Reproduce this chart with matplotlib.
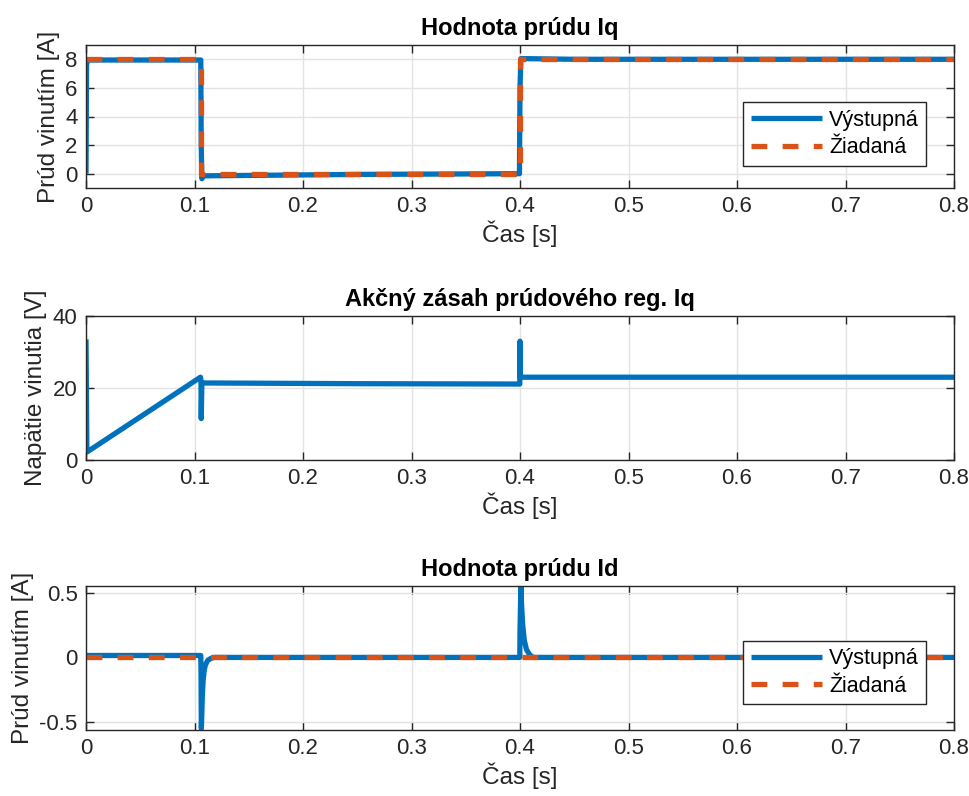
import numpy as np
import matplotlib.pyplot as plt

plt.rcParams['font.family'] = ['Liberation Sans', 'DejaVu Sans']

# --- data ---
# Iq (top)
t_iq = [0, 0.0005, 0.0015, 0.1058, 0.1062, 0.1068, 0.108, 0.15, 0.25, 0.3995, 0.4, 0.4008, 0.45, 0.8]
iq_out = [0, 7.6, 7.95, 7.95, 2.0, -0.35, -0.15, -0.12, -0.05, 0.0, 6.0, 8.05, 8.0, 8.0]
t_ref = [0, 0.106, 0.106, 0.4, 0.4, 0.8]
iq_ref = [8, 8, 0, 0, 8, 8]

# action value (middle)
t_u = [0, 0.0008, 0.1055, 0.106, 0.1062, 0.1068, 0.25, 0.3998, 0.4, 0.4003, 0.8]
u_val = [33.5, 2.2, 23.0, 22.0, 11.5, 21.4, 21.2, 21.1, 33.0, 23.0, 23.0]

# Id (bottom)
t_id = [0, 0.1058, 0.106, 0.1063, 0.1067, 0.1072, 0.108, 0.109, 0.110, 0.112, 0.115, 0.118,
        0.3998, 0.4, 0.4008, 0.4015, 0.4025, 0.404, 0.406, 0.409, 0.412, 0.8]
id_out = [0.015, 0.015, -0.1, -0.55, -0.45, -0.3, -0.17, -0.1, -0.06, -0.025, -0.008, 0.0,
          0.0, 0.2, 0.55, 0.4, 0.25, 0.13, 0.06, 0.02, 0.0, 0.0]
id_ref_t = [0, 0.8]
id_ref = [0, 0]

blue = '#0072BD'
orange = '#D95319'
dark = '#262626'

fig = plt.figure(figsize=(9.7, 7.96), dpi=100)
left, width = 86 / 970, 868 / 970
ax1 = fig.add_axes([left, 1 - 188 / 796, width, 143 / 796])
ax2 = fig.add_axes([left, 1 - 460 / 796, width, 144 / 796])
ax3 = fig.add_axes([left, 1 - 730 / 796, width, 144 / 796])

lw = 3.8
solid = dict(solid_joinstyle='round', solid_capstyle='butt')

ax1.plot(t_iq, iq_out, color=blue, lw=lw, label='Výstupná', **solid)
ax1.plot(t_ref, iq_ref, color=orange, lw=lw, ls='--', dashes=(3.0, 2.9), label='Žiadaná')
ax1.set_ylim(-1, 9)
ax1.set_yticks([0, 2, 4, 6, 8])
ax1.set_title('Hodnota prúdu Iq', fontsize=17, fontweight='bold', pad=7)
ax1.set_ylabel('Prúd vinutím [A]', fontsize=17.5, labelpad=4)

ax2.plot(t_u, u_val, color=blue, lw=lw, **solid)
ax2.set_ylim(0, 40)
ax2.set_yticks([0, 20, 40])
ax2.set_title('Akčný zásah prúdového reg. Iq', fontsize=17, fontweight='bold', pad=7)
ax2.set_ylabel('Napätie vinutia [V]', fontsize=17.5, labelpad=4)

ax3.plot(t_id, id_out, color=blue, lw=lw, label='Výstupná', **solid)
ax3.plot(id_ref_t, id_ref, color=orange, lw=lw, ls='--', dashes=(3.0, 2.9), label='Žiadaná')
ax3.set_ylim(-0.562, 0.553)
ax3.set_yticks([-0.5, 0, 0.5])
ax3.set_yticklabels(['-0.5', '0', '0.5'])
ax3.set_title('Hodnota prúdu Id', fontsize=17, fontweight='bold', pad=7)
ax3.set_ylabel('Prúd vinutím [A]', fontsize=17.5, labelpad=4)

for ax in (ax1, ax2, ax3):
    ax.set_xlim(0, 0.8)
    ax.set_xticks(np.arange(0, 0.81, 0.1))
    ax.set_xticklabels(['0', '0.1', '0.2', '0.3', '0.4', '0.5', '0.6', '0.7', '0.8'])
    ax.set_xlabel('Čas [s]', fontsize=17.5, labelpad=2)
    ax.grid(True, color='#e3e3e3', lw=1)
    ax.set_axisbelow(True)
    ax.tick_params(direction='in', top=True, right=True, length=6, width=1,
                   labelsize=16, colors=dark, pad=6)
    for s in ax.spines.values():
        s.set_color(dark)
        s.set_linewidth(1)
    ax.yaxis.label.set_color(dark)
    ax.xaxis.label.set_color(dark)

for ax in (ax1, ax3):
    leg = ax.legend(loc='upper left', bbox_to_anchor=(657 / 868, 0.6 if ax is ax1 else 0.62),
                    fontsize=15.5, handlelength=3.3, fancybox=False, framealpha=1,
                    edgecolor=dark, borderpad=0.35, labelspacing=0.3, handletextpad=0.35,
                    borderaxespad=0)
    leg.get_frame().set_linewidth(1)

plt.savefig('out.png', dpi=100)
